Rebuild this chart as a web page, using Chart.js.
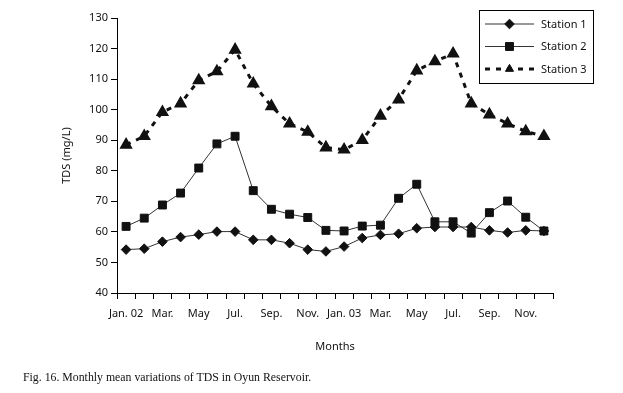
<!DOCTYPE html>
<html>
	<head>
		<meta charset="UTF-8" />
		<title>TDS in Oyun Reservoir</title>
		<script src="https://cdn.jsdelivr.net/npm/chart.js"></script>
		<style>
			body { margin: 0; background: #fff; }
			#wrap { position: relative; width: 623px; height: 393px; }
			#caption {
				position: absolute; left: 23px; top: 370px;
				font: 11.8px "Liberation Serif", "Times New Roman", serif; color: #111;
			}
		</style>
	</head>
	<body>
		<div id="wrap">
			<canvas id="tdsChart" width="623" height="393"></canvas>
			<div id="caption">Fig. 16. Monthly mean variations of TDS in Oyun Reservoir.</div>
		</div>
		<script>
			// months Jan 2002 .. Dec 2003
			const months = ["Jan. 02", "Feb.", "Mar.", "Apr.", "May", "Jun.", "Jul.", "Aug.", "Sep.", "Oct.", "Nov.", "Dec.",
			                "Jan. 03", "Feb.", "Mar.", "Apr.", "May", "Jun.", "Jul.", "Aug.", "Sep.", "Oct.", "Nov.", "Dec."];
			const tickLabels = ["Jan. 02", "", "Mar.", "", "May", "", "Jul.", "", "Sep.", "", "Nov.", "",
			                    "Jan. 03", "", "Mar.", "", "May", "", "Jul.", "", "Sep.", "", "Nov.", ""];
			const station1 = [54.2, 54.5, 56.8, 58.3, 59.1, 60.1, 60.1, 57.4, 57.4, 56.3, 54.2, 53.6,
			                  55.2, 58.0, 59.0, 59.4, 61.2, 61.6, 61.6, 61.6, 60.5, 59.8, 60.5, 60.3];
			const station2 = [61.8, 64.5, 68.8, 72.7, 80.9, 88.8, 91.3, 73.5, 67.4, 65.8, 64.7, 60.5,
			                  60.3, 61.9, 62.2, 71.0, 75.6, 63.3, 63.3, 59.6, 66.3, 70.1, 64.8, 60.3];
			const station3 = [88.5, 91.3, 99.2, 102.0, 109.6, 112.5, 119.6, 108.5, 101.1, 95.4, 92.7, 87.6,
			                  86.9, 90.0, 98.0, 103.3, 112.8, 115.8, 118.3, 102.0, 98.4, 95.4, 92.9, 91.3];
			const yTicks = { min: 40, max: 130, step: 10 };

			const sans = "'Noto Sans', 'Open Sans', sans-serif";

			// legend box with line + marker samples, like the Excel original
			const lineLegend = {
				id: "lineLegend",
				afterDraw(chart) {
					const ctx = chart.ctx;
					ctx.save();
					ctx.strokeStyle = "#000";
					ctx.lineWidth = 1;
					ctx.strokeRect(479.5, 10.5, 114, 73);
					chart.data.datasets.forEach((ds, i) => {
						const y = 24 + i * 22.5;
						ctx.save();
						ctx.strokeStyle = ds.borderColor;
						ctx.lineWidth = ds.borderWidth;
						ctx.setLineDash(ds.borderDash || []);
						ctx.beginPath();
						ctx.moveTo(485, y);
						ctx.lineTo(534, y);
						ctx.stroke();
						ctx.restore();
						ctx.fillStyle = ds.pointBackgroundColor;
						ctx.strokeStyle = ds.pointBorderColor;
						Chart.helpers.drawPoint(ctx, {
							pointStyle: ds.pointStyle, radius: ds.pointRadius, rotation: 0, borderWidth: 1
						}, 509.5, y);
						ctx.fillStyle = "#111";
						ctx.font = "11px " + sans;
						ctx.textBaseline = "middle";
						ctx.fillText(ds.label, 541, y + 0.5);
					});
					ctx.restore();
				}
			};

			new Chart(document.getElementById("tdsChart"), {
				type: "line",
				data: {
					labels: months,
					datasets: [{
						label: "Station 1",
						data: station1,
						borderColor: "#333",
						borderWidth: 1,
						pointStyle: "rectRot",
						pointRadius: 4.8,
						pointBackgroundColor: "#111",
						pointBorderColor: "#111",
						tension: 0
					}, {
						label: "Station 2",
						data: station2,
						borderColor: "#333",
						borderWidth: 1,
						pointStyle: "rect",
						pointRadius: 5.6,
						pointBackgroundColor: "#111",
						pointBorderColor: "#111",
						tension: 0
					}, {
						label: "Station 3",
						data: station3,
						borderColor: "#111",
						borderWidth: 3,
						borderDash: [5, 6],
						pointStyle: "triangle",
						pointRadius: 4.7,
						pointBackgroundColor: "#111",
						pointBorderColor: "#111",
						tension: 0
					}]
				},
				options: {
					responsive: false,
					animation: false,
					layout: { padding: { top: 18, right: 70, bottom: 40, left: 0 } },
					plugins: {
						legend: { display: false },
						tooltip: { enabled: false }
					},
					scales: {
						x: {
							offset: true,
							afterFit: (scale) => { scale.height = 60; },
							border: { color: "#000", width: 1 },
							grid: { offset: true, drawOnChartArea: false, tickLength: 6, color: "#000" },
							ticks: {
								autoSkip: false,
								maxRotation: 0,
								padding: 8,
								color: "#111",
								font: { family: sans, size: 11 },
								callback: (value, index) => tickLabels[index]
							},
							title: {
								display: true,
								text: "Months",
								color: "#111",
								font: { family: sans, size: 11 },
								padding: { top: 0, bottom: 0 }
							}
						},
						y: {
							min: yTicks.min,
							max: yTicks.max,
							afterFit: (scale) => { scale.width = 117; },
							border: { color: "#000", width: 1 },
							grid: { drawOnChartArea: false, tickLength: 6, color: "#000" },
							ticks: {
								stepSize: yTicks.step,
								padding: 3,
								color: "#111",
								font: { family: sans, size: 11 }
							},
							title: {
								display: true,
								text: "TDS (mg/L)",
								color: "#111",
								font: { family: sans, size: 11 },
								padding: { top: 60, bottom: 0 }
							}
						}
					}
				},
				plugins: [lineLegend]
			});
		</script>
	</body>
</html>
